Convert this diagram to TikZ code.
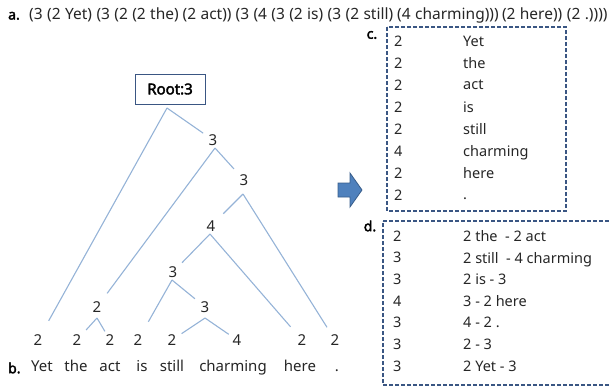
\documentclass[tikz,border=0pt]{standalone}
\usepackage{fontspec}
\setmainfont{Noto Sans}[BoldFont={Noto Sans}, BoldFeatures={FakeBold=2.5}]
\definecolor{ink}{HTML}{262626}
\definecolor{branch}{HTML}{95B3D7}
\definecolor{frame}{HTML}{3A5683}
\definecolor{arrowfill}{HTML}{4F81BD}
\definecolor{arrowline}{HTML}{385D8A}
\tikzset{
  lbl/.style={font=\fontsize{15}{15}\selectfont, text=ink, inner sep=0pt},
  tok/.style={font=\fontsize{15.5}{15.5}\selectfont, text=ink, inner sep=0pt, anchor=base west},
  tag/.style={font=\bfseries\fontsize{14}{14}\selectfont, text=black, inner sep=0pt},
  edge/.style={draw=branch, line width=1.1pt},
  cell/.style={lbl, font=\fontsize{14.5}{14.5}\selectfont, anchor=west},
  listbox/.style={draw=frame, line width=1.3pt, dash pattern=on 4pt off 2pt},
}
\begin{document}
\begin{tikzpicture}[x=1pt,y=-1pt]
\useasboundingbox (0,0) rectangle (611,389);

% bracketed sentence, one token per node on a common baseline
\node[tag, anchor=base west] (a) at (8,19.5) {a.};
\foreach \t/\x [count=\k] in {{(3}/29,{(2}/46.9,{Yet)}/64.8,{(3}/96.3,{(2}/114.2,{(2}/132.1,{the)}/150,
    {(2}/182.5,{act))}/200.4,{(3}/235.4,{(4}/253.3,{(3}/271.2,{(2}/289.1,{is)}/307,{(3}/327.5,
    {(2}/345.4,{still)}/363.3,{(4}/397,{charming)))}/414.9,{(2}/501.8,{here))}/519.7,{(2}/566.7,{.))))}/584.6}
  \node[tok] (a\k) at (\x,19.5) {\t};

% root box
\node[draw=frame, line width=0.9pt, minimum width=70pt, minimum height=30pt, inner sep=0pt,
      font=\bfseries\fontsize{15}{15}\selectfont] (root) at (170,89) {Root:3};

% internal labels
\node[lbl] (n1) at (213,140) {3};
\node[lbl] (n2) at (244,180) {3};
\node[lbl] (n3) at (211,226) {4};
\node[lbl] (n4) at (173,272) {3};
\node[lbl] (n5) at (97,307) {2};
\node[lbl] (n6) at (205,307) {3};

% leaf labels
\foreach \i/\x/\v in {1/38/2,2/77/2,3/110/2,4/138/2,5/172/2,6/237/4,7/302/2,8/335/2}
  \node[lbl] (l\i) at (\x,340) {\v};

% branch points just below each label
\coordinate (rt) at (167,108);
\coordinate (t1) at (215,148);
\coordinate (t2) at (243,194);
\coordinate (t3) at (210,234);
\coordinate (t4) at (172,280);
\coordinate (t5) at (97,318);
\coordinate (t6) at (205,318);

% branches
\draw[edge, shorten >=22pt] (rt) -- (l1.center);
\draw[edge, shorten >=12pt] (rt) -- (n1.center);
\draw[edge, shorten >=17pt] (t1) -- (n5.center);
\draw[edge, shorten >=15pt] (t1) -- (n2.center);
\draw[edge, shorten >=17.5pt] (t2) -- (n3.center);
\draw[edge, shorten >=15pt] (t2) -- (l8.center);
\draw[edge, shorten >=13pt] (t3) -- (n4.center);
\draw[edge, shorten >=17.5pt] (t3) -- (l7.center);
\draw[edge, shorten >=21pt] (t4) -- (l4.center);
\draw[edge, shorten >=13pt] (t4) -- (n6.center);
\draw[edge, shorten >=13.5pt] (t5) -- (l2.center);
\draw[edge, shorten >=10pt] (t5) -- (l3.center);
\draw[edge, shorten >=11.5pt] (t6) -- (l5.center);
\draw[edge, shorten >=10pt] (t6) -- (l6.center);

% words
\node[tag, anchor=west] (b) at (8,368) {b.};
\foreach \w/\x [count=\k] in {Yet/42,the/76,act/110,is/142,still/172,charming/233,here/300,./337}
  \node[lbl] (w\k) at (\x,368) {\strut\w};

% block arrow
\fill[arrowfill, draw=arrowline, line width=0.8pt, line join=miter]
  (338,183) -- (350,183) -- (350,173) -- (362,190) -- (350,207) -- (350,197) -- (338,197) -- cycle;

% table c
\node[tag] (c) at (372,35) {c.};
\draw[listbox] (387,27) rectangle (566,211);
\foreach \n/\w [count=\k from 0] in {2/Yet,2/the,2/act,2/is,2/still,4/charming,2/here,2/.}{
  \node[cell] (cn\k) at (394,43+22*\k) {\strut\n};
  \node[cell] (cw\k) at (463,43+22*\k) {\strut\w};
}

% table d
\node[tag] (d) at (370,226) {d.};
\draw[listbox] (383,221) -- (615,221) (615,385) -- (383,385) -- (383,221);
\foreach \n/\w [count=\k from 0] in {2/2 the \ - 2 act,3/2 still \ - 4 charming,3/2 is - 3,4/3 - 2 here,3/4 - 2 .,3/2 - 3,3/2 Yet - 3}{
  \node[cell] (dn\k) at (393,238+21.7*\k) {\strut\n};
  \node[cell] (dw\k) at (463,238+21.7*\k) {\strut\w};
}
\end{tikzpicture}
\end{document}
